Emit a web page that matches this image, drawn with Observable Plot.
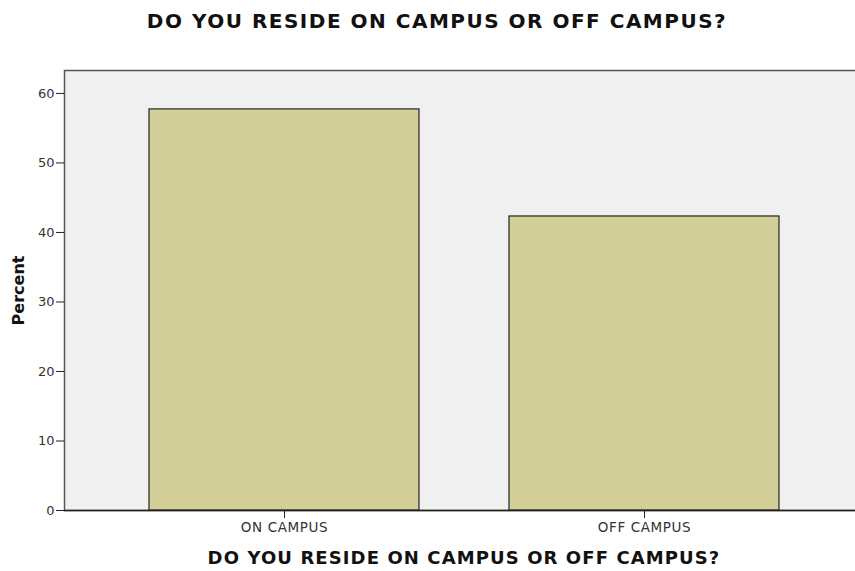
<!DOCTYPE html>
<html>
<head>
<meta charset="utf-8">
<script src="https://cdn.jsdelivr.net/npm/d3@7"></script>
<script src="https://cdn.jsdelivr.net/npm/@observablehq/plot@0.6"></script>
<style>
  html, body { margin: 0; padding: 0; background: #fff; }
  #chart svg { display: block; }
</style>
</head>
<body>
<div id="chart"></div>
<script>
const categories = ["ON CAMPUS", "OFF CAMPUS"];
const percents = [57.7, 42.3];
const yTicks = [0, 10, 20, 30, 40, 50, 60];
const titleText = "DO YOU RESIDE ON CAMPUS OR OFF CAMPUS?";
const xLabelText = "DO YOU RESIDE ON CAMPUS OR OFF CAMPUS?";
const yLabelText = "Percent";

const data = categories.map((c, i) => ({category: c, percent: percents[i]}));
const font = "'DejaVu Sans', sans-serif";

const chart = Plot.plot({
  width: 855,
  height: 571,
  marginTop: 70,
  marginBottom: 61,
  marginLeft: 64,
  marginRight: -8,
  style: {fontFamily: font, background: "#fff", overflow: "hidden"},
  x: {domain: categories, paddingInner: 0.25, paddingOuter: 0.2333},
  y: {domain: [0, 63.3]},
  marks: [
    Plot.frame({fill: "#f0f0f0", stroke: "#555", strokeWidth: 1.5}),
    Plot.barY(data, {x: "category", y: "percent", fill: "#d3cf98", stroke: "#333", strokeWidth: 1.3}),
    Plot.ruleY([0], {stroke: "#222", strokeWidth: 1.5}),
    Plot.axisY({ticks: yTicks, tickSize: 8, tickPadding: 2, fontSize: 13, label: null, stroke: "#222", color: "#333"}),
    Plot.axisX({tickSize: 8, tickPadding: 4, fontSize: 13.5, label: null, stroke: "#222", color: "#333"}),
    Plot.text([titleText], {frameAnchor: "top", lineAnchor: "middle", textAnchor: "middle", dy: -49, dx: -27, fontSize: 20, fontWeight: "bold", fill: "#111"}),
    Plot.text([xLabelText], {frameAnchor: "bottom", lineAnchor: "middle", textAnchor: "middle", dy: 48, fontSize: 18, fontWeight: "bold", fill: "#111"}),
    Plot.text([yLabelText], {frameAnchor: "left", lineAnchor: "middle", textAnchor: "middle", dx: -46, rotate: -90, fontSize: 16, fontWeight: "bold", fill: "#111"})
  ]
});
document.getElementById("chart").appendChild(chart);

// letter spacing to match the reference's wide lettering
d3.select(chart).selectAll("text").nodes().forEach(node => {
  const t = node.textContent;
  const fs = node.getAttribute("font-size") || (node.parentNode && node.parentNode.getAttribute("font-size"));
  if (t === titleText && fs === "20") node.style.letterSpacing = "1.5px";
  else if (t === xLabelText && fs === "18") node.style.letterSpacing = "1.1px";
  else if (categories.includes(t)) node.style.letterSpacing = "0.6px";
});
</script>
</body>
</html>
